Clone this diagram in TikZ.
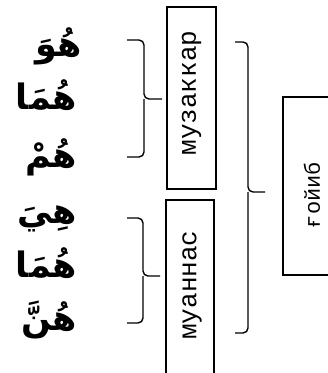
\documentclass[tikz,border=0pt]{standalone}
\usepackage{fontspec}
\TeXXeTstate=1
\newfontfamily\arabicfont[Script=Arabic]{DejaVu Sans}
\newfontfamily\boxfont{Liberation Mono}
\begin{document}
\begin{tikzpicture}[x=1pt,y=-1pt,
  word/.style={anchor=east,inner sep=0pt,font=\arabicfont\bfseries\fontsize{35}{37}\selectfont},
  catbox/.style={draw,line width=1.4pt,inner sep=0pt},
  cattext/.style={rotate=90,inner sep=0pt,font=\boxfont\fontsize{26}{28}\selectfont},
  brace/.style={line width=1.4pt,rounded corners=5pt}]
\useasboundingbox (0,0) rectangle (328,373);
\clip (0,0) rectangle (328,373);
% Arabic words
\node[word] (w1) at (82,46) {\beginR هُوَ\endR};
\node[word] (w2) at (77,95) {\beginR هُمَا\endR};
\node[word] (w3) at (77,157) {\beginR هُمْ\endR};
\node[word] (w4) at (77,219) {\beginR هِيَ\endR};
\node[word] (w5) at (77,263) {\beginR هُمَا\endR};
\node[word] (w6) at (77,320) {\beginR هُنَّ\endR};
% boxes
\node[catbox,minimum width=49pt,minimum height=182pt] (muz) at (191.5,98) {};
\node[catbox,minimum width=48pt,minimum height=180pt] (mua) at (190,290) {};
\node[catbox,minimum width=54pt,minimum height=178pt] (goib) at (310,186) {};
\node[cattext] (muzt) at (muz.center) [xshift=5pt] {музаккар};
\node[cattext] (muat) at (mua.center) [xshift=5pt,yshift=-2pt] {муаннас};
\node[cattext,font=\boxfont\fontsize{22}{24}\selectfont] (goibt) at (312,195) {ғойиб};
% brace points
\coordinate (b1t) at (127,40); \coordinate (b1b) at (127,157); \coordinate (b1m) at (162,99);
\coordinate (b2t) at (127,218); \coordinate (b2b) at (127,323); \coordinate (b2m) at (160,276);
\coordinate (b3t) at (235,42); \coordinate (b3b) at (235,333); \coordinate (b3m) at (265,192);
\draw[brace] (b1t) -- (144,40) -- (144,99) -- (b1m);
\draw[brace] (144,99) -- (144,157) -- (b1b);
\draw[brace] (b2t) -- (143,218) -- (143,276) -- (b2m);
\draw[brace] (143,276) -- (143,323) -- (b2b);
\draw[brace] (b3t) -- (248,42) -- (248,192) -- (b3m);
\draw[brace] (248,192) -- (248,333) -- (b3b);
\end{tikzpicture}
\end{document}
